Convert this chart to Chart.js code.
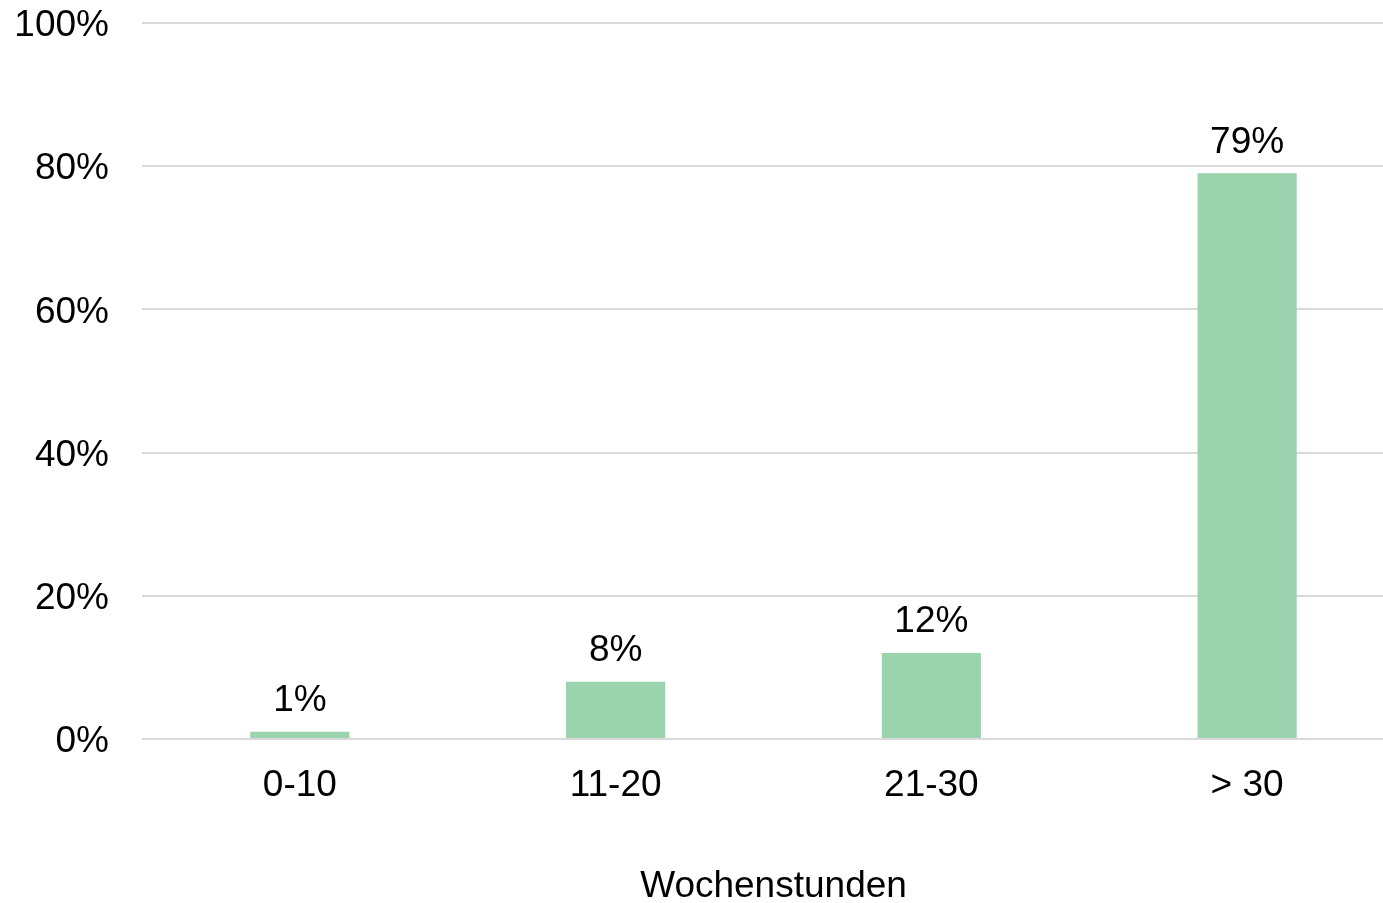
<!DOCTYPE html>
<html lang="de">
<head>
    <meta charset="UTF-8">
    <title>Wochenstunden</title>
    <script src="https://cdn.jsdelivr.net/npm/chart.js"></script>
    <style>
        html, body { margin: 0; padding: 0; background: #fff; overflow: hidden; }
        /* plot runs a bit past the right edge of the window, as in the original */
        .chart-container { position: relative; width: 1405px; height: 903px; }
    </style>
</head>
<body>
    <div class="chart-container">
        <canvas id="hoursChart"></canvas>
    </div>
    <script>
        // Data
        const categories = ['0-10', '11-20', '21-30', '> 30'];
        const shares = [1, 8, 12, 79];
        const axisTitle = 'Wochenstunden';

        const fontFamily = '"Liberation Sans", Arial, sans-serif';

        // draws the value above each bar
        const valueLabels = {
            id: 'valueLabels',
            afterDatasetsDraw(chart) {
                const ctx = chart.ctx;
                const meta = chart.getDatasetMeta(0);
                ctx.save();
                ctx.font = '37px ' + fontFamily;
                ctx.fillStyle = '#000';
                ctx.textAlign = 'center';
                ctx.textBaseline = 'middle';
                meta.data.forEach((bar, i) => {
                    ctx.fillText(shares[i] + '%', bar.x, bar.y - 31);
                });
                ctx.restore();
            }
        };

        const ctx = document.getElementById('hoursChart').getContext('2d');
        new Chart(ctx, {
            type: 'bar',
            data: {
                labels: categories,
                datasets: [{
                    data: shares,
                    backgroundColor: '#9ad3ae',
                    barPercentage: 0.628,
                    categoryPercentage: 0.5
                }]
            },
            options: {
                responsive: true,
                maintainAspectRatio: false,
                animation: false,
                layout: { padding: { top: 23, right: 0, left: 0, bottom: 0 } },
                plugins: {
                    legend: { display: false },
                    tooltip: { enabled: false }
                },
                scales: {
                    x: {
                        afterFit(scale) { scale.height = 164; },
                        grid: { display: false, drawTicks: false },
                        border: { display: false },
                        ticks: {
                            color: '#000',
                            font: { family: fontFamily, size: 37 },
                            padding: 25
                        },
                        title: {
                            display: true,
                            text: axisTitle,
                            color: '#000',
                            font: { family: fontFamily, size: 37, lineHeight: 0.85 },
                            padding: { top: 40, bottom: 0 }
                        }
                    },
                    y: {
                        min: 0,
                        max: 100,
                        afterFit(scale) {
                            scale.width = 142;
                            scale.paddingTop = 0;
                            scale.paddingBottom = 0;
                        },
                        grid: { color: '#d9d9d9', lineWidth: 2, drawTicks: false },
                        border: { display: false },
                        ticks: {
                            stepSize: 20,
                            color: '#000',
                            font: { family: fontFamily, size: 37 },
                            padding: 33,
                            labelOffset: 3,
                            callback: v => v + '%'
                        }
                    }
                }
            },
            plugins: [valueLabels]
        });
    </script>
</body>
</html>
